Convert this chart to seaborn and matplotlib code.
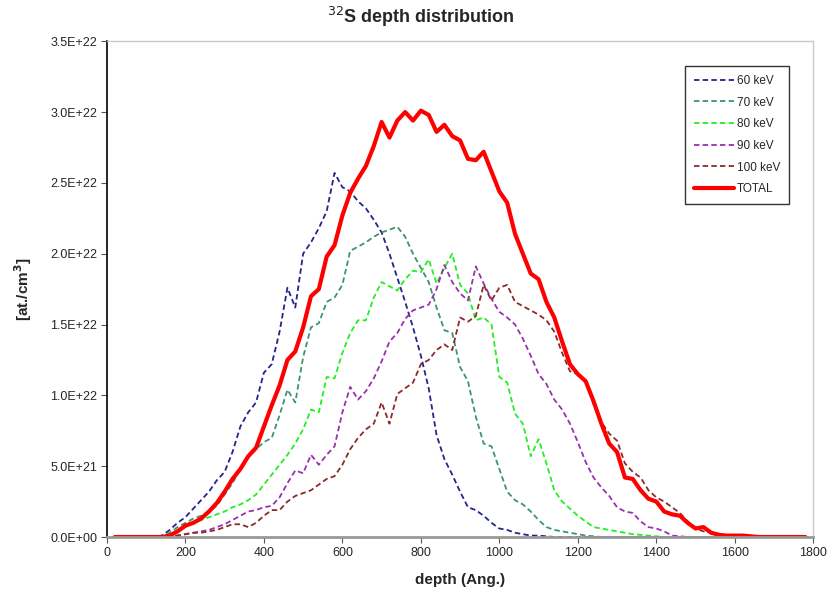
import matplotlib
matplotlib.use("Agg")
import matplotlib.pyplot as plt
from matplotlib.ticker import FuncFormatter, MultipleLocator
import numpy as np
import seaborn as sns

# depth grid (Angstrom), 20 A steps
depth = np.arange(20, 1800, 20)

# concentrations in units of 1E22 at./cm3;
# leading zeros written out, the flat zero tail is padded below
kev60 = [0] * 6 + [
    0.01, 0.05, 0.10, 0.14, 0.20, 0.26, 0.32, 0.40, 0.46, 0.60,
    0.78, 0.88, 0.95, 1.16, 1.22, 1.45, 1.76, 1.62, 2.00, 2.08,
    2.18, 2.30, 2.57, 2.47, 2.44, 2.37, 2.32, 2.24, 2.15, 2.00,
    1.83, 1.66, 1.48, 1.28, 1.05, 0.72, 0.55, 0.44, 0.32, 0.21,
    0.19, 0.15, 0.10, 0.06, 0.05, 0.03, 0.02, 0.01, 0.01, 0.005,
]
kev70 = [0] * 6 + [
    0.01, 0.03, 0.07, 0.10, 0.13, 0.15, 0.18, 0.22, 0.30, 0.38,
    0.48, 0.56, 0.62, 0.67, 0.70, 0.86, 1.04, 0.95, 1.27, 1.48,
    1.51, 1.66, 1.69, 1.78, 2.02, 2.05, 2.08, 2.12, 2.15, 2.17,
    2.19, 2.12, 2.00, 1.90, 1.80, 1.62, 1.46, 1.44, 1.20, 1.10,
    0.85, 0.66, 0.64, 0.48, 0.32, 0.26, 0.23, 0.18, 0.12, 0.07,
    0.05, 0.04, 0.03, 0.02, 0.01, 0.005,
]
kev80 = [0] * 6 + [
    0.005, 0.02, 0.05, 0.07, 0.10, 0.12, 0.14, 0.16, 0.18, 0.21,
    0.23, 0.26, 0.30, 0.37, 0.44, 0.51, 0.58, 0.66, 0.76, 0.90,
    0.88, 1.13, 1.12, 1.30, 1.44, 1.53, 1.53, 1.69, 1.80, 1.77,
    1.74, 1.82, 1.88, 1.87, 1.96, 1.79, 1.90, 2.00, 1.78, 1.72,
    1.53, 1.55, 1.50, 1.13, 1.09, 0.87, 0.80, 0.57, 0.69, 0.52,
    0.33, 0.25, 0.20, 0.15, 0.11, 0.07, 0.06, 0.05, 0.04, 0.03,
    0.02, 0.015, 0.01, 0.005,
]
kev90 = [0] * 7 + [
    0.005, 0.01, 0.02, 0.03, 0.04, 0.05, 0.07, 0.09, 0.12, 0.15,
    0.18, 0.19, 0.21, 0.22, 0.28, 0.38, 0.47, 0.45, 0.58, 0.51,
    0.58, 0.64, 0.88, 1.06, 0.97, 1.03, 1.12, 1.24, 1.38, 1.44,
    1.54, 1.60, 1.62, 1.64, 1.75, 1.92, 1.80, 1.72, 1.67, 1.91,
    1.79, 1.68, 1.59, 1.55, 1.50, 1.40, 1.28, 1.15, 1.08, 0.97,
    0.90, 0.80, 0.67, 0.53, 0.42, 0.35, 0.29, 0.21, 0.18, 0.17,
    0.11, 0.07, 0.06, 0.04, 0.01, 0.005,
]
kev100 = [0] * 7 + [
    0.005, 0.01, 0.02, 0.03, 0.03, 0.04, 0.05, 0.07, 0.09, 0.09,
    0.07, 0.10, 0.15, 0.19, 0.19, 0.25, 0.29, 0.31, 0.33, 0.37,
    0.41, 0.43, 0.51, 0.62, 0.70, 0.76, 0.80, 0.95, 0.80, 1.01,
    1.05, 1.09, 1.22, 1.25, 1.32, 1.36, 1.32, 1.55, 1.52, 1.56,
    1.78, 1.67, 1.76, 1.78, 1.66, 1.63, 1.60, 1.57, 1.53, 1.45,
    1.30, 1.17, 1.15, 1.10, 0.94, 0.81, 0.73, 0.68, 0.52, 0.46,
    0.42, 0.33, 0.28, 0.25, 0.21, 0.17, 0.11, 0.06, 0.04, 0.03,
    0.02, 0.01, 0.01, 0.005,
]
total = [0] * 7 + [
    0.01, 0.04, 0.08, 0.10, 0.13, 0.18, 0.24, 0.32, 0.41, 0.48,
    0.57, 0.63, 0.78, 0.93, 1.07, 1.25, 1.31, 1.48, 1.70, 1.75,
    1.98, 2.06, 2.27, 2.43, 2.53, 2.62, 2.76, 2.93, 2.82, 2.94,
    3.00, 2.94, 3.01, 2.98, 2.86, 2.91, 2.83, 2.80, 2.67, 2.66,
    2.72, 2.58, 2.44, 2.36, 2.14, 2.00, 1.86, 1.82, 1.66, 1.55,
    1.38, 1.22, 1.15, 1.10, 0.96, 0.80, 0.66, 0.60, 0.42, 0.41,
    0.33, 0.27, 0.25, 0.18, 0.16, 0.15, 0.10, 0.06, 0.07, 0.03,
    0.015, 0.01, 0.01, 0.01, 0.005,
]

SERIES = [
    ("60 keV", kev60, "#24248f"),
    ("70 keV", kev70, "#3a9570"),
    ("80 keV", kev80, "#22ee22"),
    ("90 keV", kev90, "#9a30b0"),
    ("100 keV", kev100, "#8c2a2a"),
]


def pad(vals):
    """Flat zero tail out to the end of the depth grid, scaled to at./cm3."""
    vals = list(vals) + [0] * (len(depth) - len(vals))
    return np.array(vals) * 1e22


sns.set_style("white")
plt.rcParams["font.family"] = ["Liberation Sans Narrow", "Liberation Sans", "DejaVu Sans"]

fig = plt.figure(figsize=(8.29, 5.98), dpi=100)
ax = fig.add_axes([0.129, 0.102, 0.852, 0.829])

for label, vals, color in SERIES:
    sns.lineplot(x=depth, y=pad(vals), ax=ax, color=color, lw=1.3,
                 label=label, linestyle=(0, (3, 1.8)))
sns.lineplot(x=depth, y=pad(total), ax=ax, color="#ff0000", lw=3.0,
             label="TOTAL")

ax.set_xlim(0, 1800)
ax.set_ylim(0, 3.5e22)
ax.xaxis.set_major_locator(MultipleLocator(200))
ax.yaxis.set_major_locator(MultipleLocator(0.5e22))
ax.yaxis.set_major_formatter(FuncFormatter(lambda v, _: f"{v:.1E}"))
ax.tick_params(axis="both", labelsize=9, direction="out", length=4,
               width=0.8, color="#555555", pad=3, left=True, bottom=True)

for side in ("top", "right"):
    ax.spines[side].set_color("#c8c8c8")
    ax.spines[side].set_linewidth(1.0)
ax.spines["left"].set_color("black")
ax.spines["left"].set_linewidth(1.2)
ax.spines["bottom"].set_color("#999999")
ax.spines["bottom"].set_linewidth(2.0)

ax.set_xlabel("depth (Ang.)", fontsize=11, fontweight="bold", labelpad=10)
ax.set_ylabel(r"[at./cm$^\mathbf{3}$]", fontsize=11, fontweight="bold", labelpad=12)
fig.text(0.508, 0.971, r"$^{32}$S depth distribution", fontsize=13,
         fontweight="bold", ha="center", va="center")

leg = ax.legend(loc="upper right", bbox_to_anchor=(0.966, 0.950),
                borderaxespad=0, fontsize=8.5, frameon=True, fancybox=False,
                edgecolor="black", handlelength=3.4, labelspacing=0.82,
                borderpad=0.75, handletextpad=0.25)
leg.get_frame().set_linewidth(1.0)

fig.savefig("out.png", dpi=100)
